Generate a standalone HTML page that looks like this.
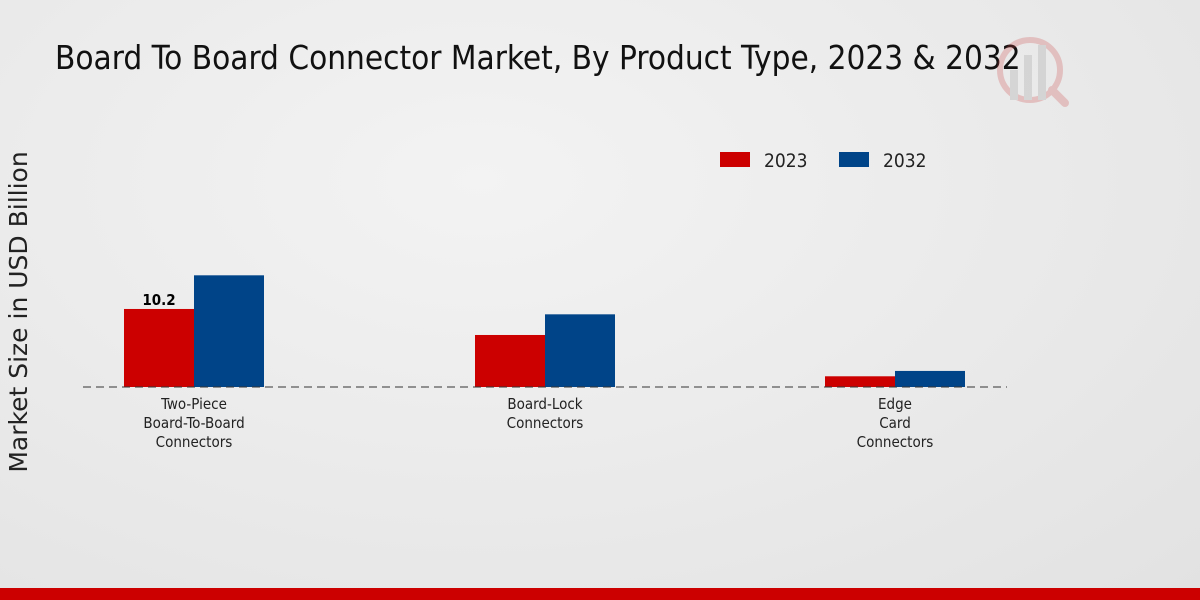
<!DOCTYPE html>
<html><head><meta charset="utf-8"><style>
html,body{margin:0;padding:0}
body{width:1200px;height:600px;overflow:hidden;background:radial-gradient(ellipse at 40% 30%,#f3f3f3 0%,#e9e9e9 60%,#e2e2e2 100%);font-family:"DejaVu Sans Condensed","Liberation Sans",sans-serif;position:relative}
#title{position:absolute;left:55px;top:38px;font-size:33px;color:#111;white-space:nowrap}
#bottom{position:absolute;left:0;top:588px;width:1200px;height:12px;background:#cc0000}
</style></head><body>
<div id="title">Board To Board Connector Market, By Product Type, 2023 &amp; 2032</div>
<svg id="chart" width="1200" height="600" style="position:absolute;left:0;top:0" font-family="DejaVu Sans Condensed, Liberation Sans, sans-serif">
<g opacity="0.25">
<circle cx="1030" cy="70" r="30" fill="none" stroke="#c44" stroke-width="6"/>
<rect x="1010" y="70" width="8" height="30" fill="#999"/><rect x="1024" y="55" width="8" height="45" fill="#999"/><rect x="1038" y="45" width="8" height="55" fill="#999"/>
<line x1="1052" y1="90" x2="1065" y2="103" stroke="#c44" stroke-width="8" stroke-linecap="round"/>
</g>
<text x="27" y="312" transform="rotate(-90 27 312)" text-anchor="middle" font-family="DejaVu Sans, sans-serif" font-size="25" fill="#222">Market Size in USD Billion</text>
<g>
<rect x="720" y="152" width="30" height="15" fill="#cc0000"/>
<text x="764" y="167" font-size="19" fill="#222">2023</text>
<rect x="839" y="152" width="30" height="15" fill="#004488"/>
<text x="883" y="167" font-size="19" fill="#222">2032</text>
</g>
<g id="bars"></g>
<line x1="83" y1="387" x2="1007" y2="387" stroke="#333" stroke-width="1" stroke-dasharray="8,5"/>
<g id="labels"></g>
</svg>
<div id="bottom"></div>
<script>
const categories=[["Two-Piece","Board-To-Board","Connectors"],["Board-Lock","Connectors"],["Edge","Card","Connectors"]];
const values2023=[10.2,6.8,1.4];
const values2032=[14.6,9.5,2.1];
const shownLabels=["10.2",null,null];
const NS="http://www.w3.org/2000/svg";
const base=387, scale=7.65, centers=[194,545,895], bw=70;
const yH=v=>v*scale;
const bars=document.getElementById('bars'), labels=document.getElementById('labels');
function rect(x,v,c,name){const r=document.createElementNS(NS,'rect');const h=yH(v);
r.setAttribute('x',x);r.setAttribute('y',base-h);r.setAttribute('width',bw);r.setAttribute('height',h);r.setAttribute('fill',c);


bars.appendChild(r);}
categories.forEach((cat,i)=>{
rect(centers[i]-bw,values2023[i],'#cc0000','bar-2023-'+i);
rect(centers[i],values2032[i],'#004488','bar-2032-'+i);
if(shownLabels[i]){const t=document.createElementNS(NS,'text');t.setAttribute('x',centers[i]-bw/2);t.setAttribute('y',base-yH(values2023[i])-4);
t.setAttribute('text-anchor','middle');t.setAttribute('font-size','15');t.setAttribute('font-weight','bold');t.textContent=shownLabels[i];


labels.appendChild(t);}
cat.forEach((line,j)=>{const t=document.createElementNS(NS,'text');t.setAttribute('x',centers[i]);t.setAttribute('y',409+j*19);
t.setAttribute('text-anchor','middle');t.setAttribute('font-size','15');t.setAttribute('fill','#222');t.textContent=line;


labels.appendChild(t);});
});
</script>
</body></html>
